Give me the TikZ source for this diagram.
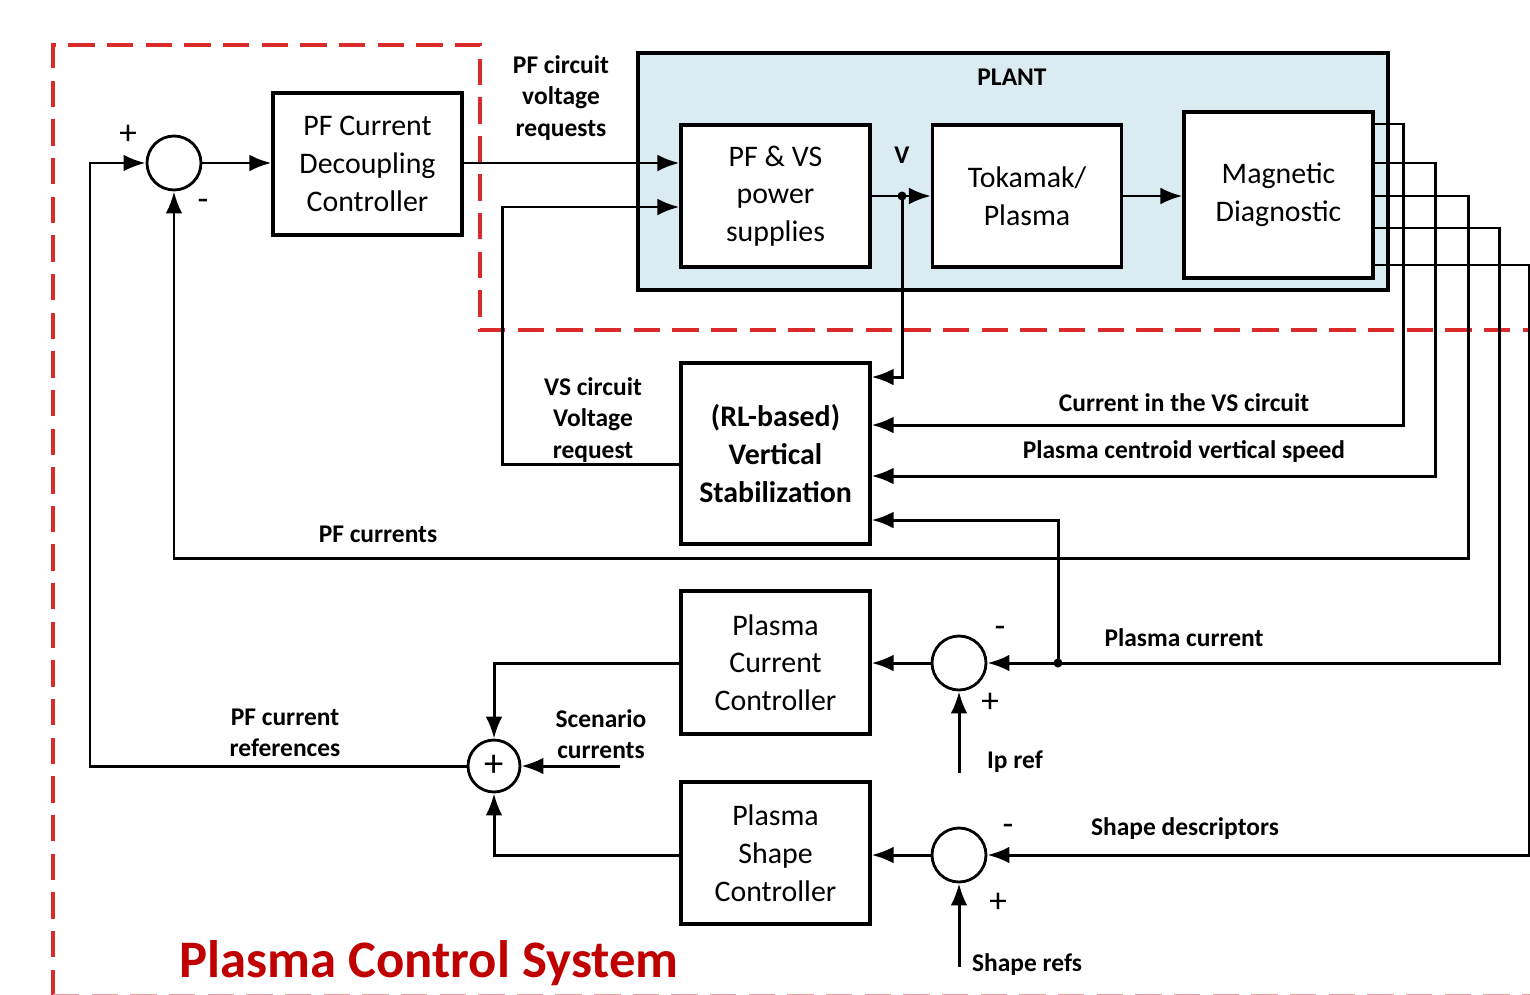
\documentclass[tikz,border=0pt]{standalone}
\usepackage{fontspec}
\setmainfont{Carlito}
\usetikzlibrary{arrows.meta,calc}
\definecolor{plantblue}{RGB}{218,235,242}
\definecolor{pcsred}{RGB}{218,42,42}
\definecolor{titlered}{RGB}{192,0,0}
\tikzset{
 blk/.style={draw, line width=1.8pt, fill=white, minimum width=3.78cm, align=center, font=\fontsize{17}{21.5}\selectfont, inner sep=0pt},
 sumc/.style={draw, circle, line width=1.6pt, minimum size=1.08cm, inner sep=0pt, fill=white},
 conn/.style={line width=1.7pt},
 arr/.style={conn, -{Latex[length=12.5pt,width=9.5pt]}},
 lbl/.style={font=\bfseries\fontsize{14.5}{18}\selectfont, align=center, inner sep=0pt},
 sgn/.style={font=\fontsize{20}{20}\selectfont, inner sep=0pt},
 pcsline/.style={pcsred, line width=1.8pt, dash pattern=on 15pt off 7pt},
}
\begin{document}
\begin{tikzpicture}[x=0.02cm,y=-0.02cm]
\useasboundingbox (0,0) rectangle (1530,994);
% PCS dashed region
\draw[pcsline] (53,996) -- (53,45) -- (480,45) -- (480,330) -- (1530,330);
\draw[pcsline, pcsred!45] (53,995.5) -- (1530,995.5);
% plant
\draw[line width=1.8pt, fill=plantblue] (638,53) rectangle (1388,290);
\node[lbl] (plant) at (1012,77) {PLANT};
% blocks
\node[blk, minimum height=2.84cm] (pfc) at (367.5,164) {PF Current\\Decoupling\\Controller};
\node[blk, minimum height=2.84cm] (ps) at (775.5,196) {PF \& VS\\power\\supplies};
\node[blk, minimum height=2.84cm] (tok) at (1027,196) {Tokamak/\\Plasma};
\node[blk, minimum height=3.32cm] (mag) at (1278.5,195) {Magnetic\\Diagnostic};
\node[blk, minimum height=3.62cm, font=\bfseries\fontsize{17}{21.5}\selectfont] (vs) at (775.5,453.5) {(RL-based)\\Vertical\\Stabilization};
\node[blk, minimum height=2.86cm] (pcc) at (775.5,662.5) {Plasma\\Current\\Controller};
\node[blk, minimum height=2.84cm] (psc) at (775.5,853) {Plasma\\Shape\\Controller};
% summing junctions
\node[sumc] (s1) at (174,163) {};
\node[sumc] (sip) at (959,663) {};
\node[sumc] (ssh) at (959,855) {};
\node[sumc, minimum size=1.04cm, font=\fontsize{22}{22}\selectfont] (sum) at (494,766) {+};
% signs
\node[sgn] (p1) at (128,135) {+};
\node[sgn] (m1) at (203,205) {-};
\node[sgn] (m2) at (1000,632) {-};
\node[sgn] (p2) at (990,703) {+};
\node[sgn] (m3) at (1008,830) {-};
\node[sgn] (p3) at (998,903) {+};
% coordinates
\coordinate (cl) at (90,766);
\coordinate (cv) at (502,464);
\coordinate (jv) at (902,196);
\coordinate (jvd) at (902,377);
\coordinate (x1) at (1403,124);
\coordinate (x2) at (1435,163);
\coordinate (x3) at (1468,196);
\coordinate (x4) at (1499,228);
\coordinate (x5) at (1529,265);
\coordinate (jip) at (1058,663);
\coordinate (ipr) at (959,773);
\coordinate (shr) at (959,967);
\coordinate (scn) at (620,766);
% connectors
\draw[arr] (sum.west) -- (sum.west -| cl) |- (s1.west);
\draw[arr] (s1.east) -- (pfc.west |- s1.east);
\draw[arr] (pfc.east |- 0,163) -- (ps.west |- 0,163);
\draw[arr] (vs.west |- cv) -- (cv) |- (ps.west |- 0,207);
\draw[arr] (ps.east) -- (tok.west);
\fill (jv) circle (4.5);
\draw[arr] (jv) -- (jvd) -- (vs.east |- jvd);
\draw[arr] (tok.east) -- (mag.west |- tok.east);
\draw[arr] (mag.east |- x1) -- (x1) |- (vs.east |- 0,425);
\draw[arr] (mag.east |- x2) -- (x2) |- (vs.east |- 0,476);
\draw[arr] (mag.east |- x3) -- (x3) |- (s1.south |- 0,558) -- (s1.south);
\draw[arr] (mag.east |- x4) -- (x4) |- (sip.east);
\fill (jip) circle (4.5);
\draw[arr] (jip) |- (vs.east |- 0,520);
\draw[arr] (mag.east |- x5) -- (x5) |- (ssh.east);
\draw[arr] (sip.west) -- (pcc.east |- sip.west);
\draw[arr] (ssh.west) -- (psc.east |- ssh.west);
\draw[arr] (ipr) -- (sip.south);
\draw[arr] (shr) -- (ssh.south);
\draw[arr] (pcc.west |- sip.west) -| (sum.north);
\draw[arr] (psc.west |- ssh.west) -| (sum.south);
\draw[arr] (scn) -- (sum.east);
% labels
\node[lbl] (l1) at (561,98) {PF circuit\\voltage\\requests};
\node[lbl] (l2) at (902,155) {V};
\node[lbl] (l3) at (593,420) {VS circuit\\Voltage\\request};
\node[lbl] (l4) at (1184,403) {Current in the VS circuit};
\node[lbl] (l5) at (1184,452) {Plasma centroid vertical speed};
\node[lbl] (l6) at (378,534) {PF currents};
\node[lbl] (l7) at (1184,638) {Plasma current};
\node[lbl] (l8) at (285,733) {PF current\\references};
\node[lbl] (l9) at (601,734) {Scenario\\currents};
\node[lbl] (l10) at (1015,762) {Ip ref};
\node[lbl] (l11) at (1185,829) {Shape descriptors};
\node[lbl] (l12) at (1027,965) {Shape refs};
\node[font=\bfseries\fontsize{30}{34}\selectfont, text=titlered, inner sep=0pt] (title) at (429,963) {Plasma Control System};
\end{tikzpicture}
\end{document}
